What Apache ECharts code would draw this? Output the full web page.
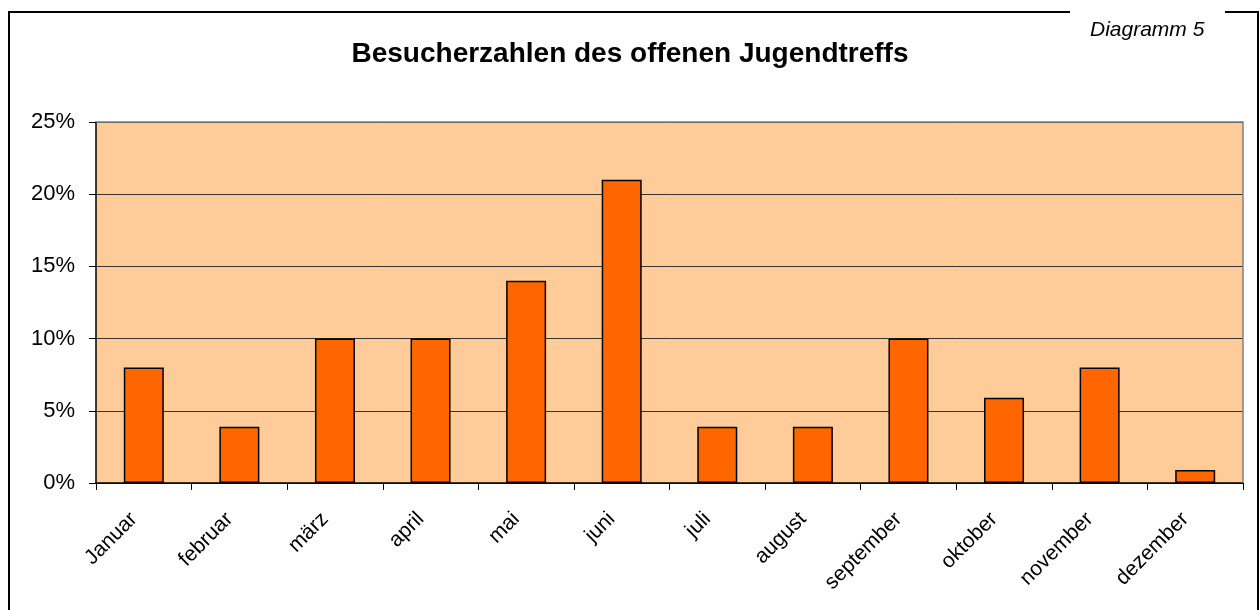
<!DOCTYPE html>
<html>
<head>
<meta charset="utf-8">
<script src="https://cdn.jsdelivr.net/npm/echarts@6/dist/echarts.min.js"></script>
<style>
  html, body { margin: 0; padding: 0; background: #fff; }
  #chart { width: 1260px; height: 610px; }
</style>
</head>
<body>
<div id="chart"></div>
<script>
// Besucherzahlen je Monat, in Prozent
const months = ['Januar', 'februar', 'märz', 'april', 'mai', 'juni', 'juli', 'august', 'september', 'oktober', 'november', 'dezember']
const visitors = [8, 3.9, 10, 10, 14, 21, 3.9, 3.9, 10, 5.9, 8, 0.9]
const yTicks = [0, 5, 10, 15, 20, 25]

const chart = echarts.init(document.getElementById('chart'))
const font = 'Arial, "Liberation Sans", sans-serif'

chart.setOption({
  backgroundColor: '#fff',
  animation: false,
  title: {
    text: 'Besucherzahlen des offenen Jugendtreffs',
    left: 'center',
    top: 35,
    textStyle: { fontFamily: font, fontSize: 28, fontWeight: 'bold', color: '#000' }
  },
  graphic: [
    {
      type: 'polyline',
      shape: { points: [[1070, 12], [9, 12], [9, 612]] },
      style: { stroke: '#000', lineWidth: 2, fill: null }
    },
    {
      type: 'polyline',
      shape: { points: [[1225, 12], [1258, 12], [1258, 612]] },
      style: { stroke: '#000', lineWidth: 2, fill: null }
    },
    {
      type: 'text',
      left: 1090,
      top: 20,
      style: { text: 'Diagramm 5', font: 'italic 21px Arial, "Liberation Sans", sans-serif', fill: '#000' }
    },
    {
      // grauer Rahmen oben/rechts der Zeichenfläche
      type: 'polyline',
      z: 10,
      shape: { points: [[96, 122], [1243, 122], [1243, 483]] },
      style: { stroke: '#808080', lineWidth: 1.5, fill: null }
    }
  ],
  grid: {
    left: 96,
    right: 17,
    top: 122,
    bottom: 127,
    show: true,
    backgroundColor: '#FFCC99',
    borderWidth: 0
  },
  xAxis: {
    type: 'category',
    data: months,
    axisLine: { lineStyle: { color: '#000', width: 1.5 } },
    axisTick: { show: true, length: 7, alignWithLabel: false, lineStyle: { color: '#000' } },
    axisLabel: {
      rotate: 45,
      interval: 0,
      margin: 23,
      padding: [0, 14, 0, 0],
      fontFamily: font,
      fontSize: 21,
      color: '#000'
    }
  },
  yAxis: {
    type: 'value',
    min: 0,
    max: 25,
    interval: 5,
    axisLine: { show: true, lineStyle: { color: '#000', width: 1.5 } },
    axisTick: { show: true, length: 7, inside: false, lineStyle: { color: '#000' } },
    splitLine: { show: true, lineStyle: { color: '#333', width: 1 } },
    axisLabel: {
      margin: 21,
      fontFamily: font,
      fontSize: 22,
      color: '#000',
      formatter: v => (yTicks.includes(v) ? v + '%' : '')
    }
  },
  series: [{
    type: 'bar',
    data: visitors,
    barWidth: 40,
    itemStyle: { color: '#FF6600', borderColor: '#000', borderWidth: 1.5 }
  }]
})
</script>
</body>
</html>
